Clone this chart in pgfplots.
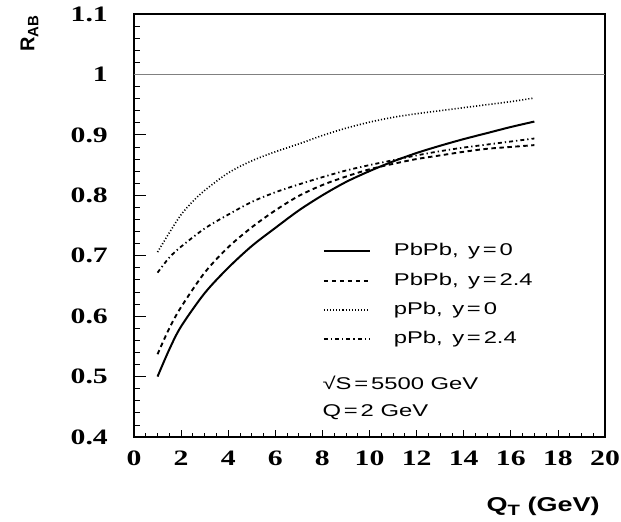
\documentclass[border=0pt]{standalone}
\usepackage{fontspec}
\usepackage{pgfplots}
\pgfplotsset{compat=1.18}
\setmainfont{Liberation Sans}
\newfontfamily\tickfont[FakeStretch=1.35]{Liberation Serif}
\newfontfamily\legfont[FakeStretch=1.4]{Liberation Sans}
\newfontfamily\labfont[FakeStretch=1.35]{Liberation Sans}
\pgfplotstableread{
x y
1 0.500
1.5 0.545
2 0.583
3 0.638
4 0.680
5 0.716
6 0.746
7 0.775
8 0.800
9 0.822
10 0.840
11 0.856
12 0.870
13 0.882
14 0.893
15 0.903
16 0.913
17 0.922
}\pbpbzero
\pgfplotstableread{
x y
1 0.537
1.5 0.580
2 0.615
3 0.672
4 0.714
5 0.747
6 0.775
7 0.799
8 0.817
9 0.831
10 0.843
11 0.852
12 0.860
13 0.866
14 0.872
15 0.877
16 0.880
17 0.883
}\pbpbfwd
\pgfplotstableread{
x y
1 0.706
1.25 0.722
1.5 0.738
2 0.768
2.5 0.790
3 0.808
4 0.837
5 0.857
6 0.872
7 0.885
8 0.899
9 0.911
10 0.921
11 0.929
12 0.935
13 0.940
14 0.945
15 0.950
16 0.955
17 0.961
}\ppbzero
\pgfplotstableread{
x y
1 0.672
1.5 0.697
2 0.715
3 0.745
4 0.768
5 0.789
6 0.805
7 0.818
8 0.830
9 0.841
10 0.850
11 0.858
12 0.866
13 0.873
14 0.879
15 0.884
16 0.889
17 0.894
}\ppbfwd
\begin{document}
\begin{tikzpicture}
\useasboundingbox (-134bp,-85bp) rectangle (487bp,437bp);
% x ticks axis
\begin{axis}[
  at={(0,0)}, anchor=south west, scale only axis,
  width=471bp, height=423bp,
  xmin=0, xmax=20, ymin=0.4, ymax=1.1,
  ytick=\empty,
  xtick={0,2,...,20}, minor x tick num=3,
  xtick pos=left, tick align=inside,
  major tick length=7bp, minor tick length=4bp,
  every tick/.style={black, line width=0.8bp},
  axis line style={line width=1.3bp},
  /pgf/number format/assume math mode=true,
  xticklabel style={font=\fontsize{22bp}{22bp}\selectfont\tickfont\bfseries, anchor=north, inner sep=0pt, yshift=-14bp},
]
\end{axis}
\begin{axis}[
  at={(0,0)}, anchor=south west, scale only axis,
  width=471bp, height=423bp,
  xmin=0, xmax=20, ymin=0.4, ymax=1.1,
  xtick=\empty,
  ytick={0.4,0.5,0.6,0.7,0.8,0.9,1,1.1}, minor y tick num=4,
  ytick pos=left, tick align=inside,
  major tick length=12bp, minor tick length=6bp,
  every tick/.style={black, line width=0.8bp},
  axis line style={line width=1.3bp},
  /pgf/number format/assume math mode=true,
  yticklabel style={font=\fontsize{22bp}{22bp}\selectfont\tickfont\bfseries, anchor=east, inner sep=0pt, xshift=-26bp},
  ylabel={\bfseries R{\fontsize{15bp}{15bp}\selectfont\raisebox{-4bp}{AB}}},
  every axis y label/.style={at={(axis description cs:-0.222,0.953)}, rotate=90, anchor=center, font=\fontsize{20bp}{20bp}\selectfont},
  xlabel={\bfseries Q{\fontsize{15bp}{15bp}\selectfont\raisebox{-4bp}{T}} (GeV)},
  every axis x label/.style={at={(axis description cs:0.996,-0.177)}, anchor=base east, font=\fontsize{20bp}{20bp}\selectfont\labfont},
  legend style={at={(axis description cs:0.4006,0.457)}, anchor=north west, draw=none, fill=none, inner sep=0pt,
    font=\fontsize{17bp}{17bp}\selectfont\legfont,
    nodes={inner sep=0pt, text height=12bp, text depth=3bp},
    row sep=14.3bp,
    /tikz/every odd column/.append style={column sep=23bp}},
  legend cell align=left,
  legend image code/.code={\draw[#1] (0bp,0bp) -- (46bp,0bp);},
]
\addplot[gray, line width=0.8bp, forget plot] coordinates {(0,1) (20,1)};
\addplot[black, line width=2bp, smooth] table {\pbpbzero};
\addlegendentry{PbPb,\, y\,=\,0}
\addplot[black, line width=1.9bp, smooth, dash pattern=on 4.5bp off 3.5bp] table {\pbpbfwd};
\addlegendentry{PbPb,\, y\,=\,2.4}
\addplot[black, line width=1.6bp, smooth, dash pattern=on 1.1bp off 2bp] table {\ppbzero};
\addlegendentry{pPb,\, y\,=\,0}
\addplot[black, line width=1.8bp, smooth, dash pattern=on 4bp off 3bp on 1.3bp off 3bp] table {\ppbfwd};
\addlegendentry{pPb,\, y\,=\,2.4}
\node[anchor=west, inner sep=0pt, font=\fontsize{17bp}{17bp}\selectfont\legfont] at (axis cs:8.0,0.489) {√S\,=\,5500 GeV};
\node[anchor=west, inner sep=0pt, font=\fontsize{17bp}{17bp}\selectfont\legfont] at (axis cs:8.0,0.441) {Q\,=\,2 GeV};
\end{axis}
\end{tikzpicture}
\end{document}
